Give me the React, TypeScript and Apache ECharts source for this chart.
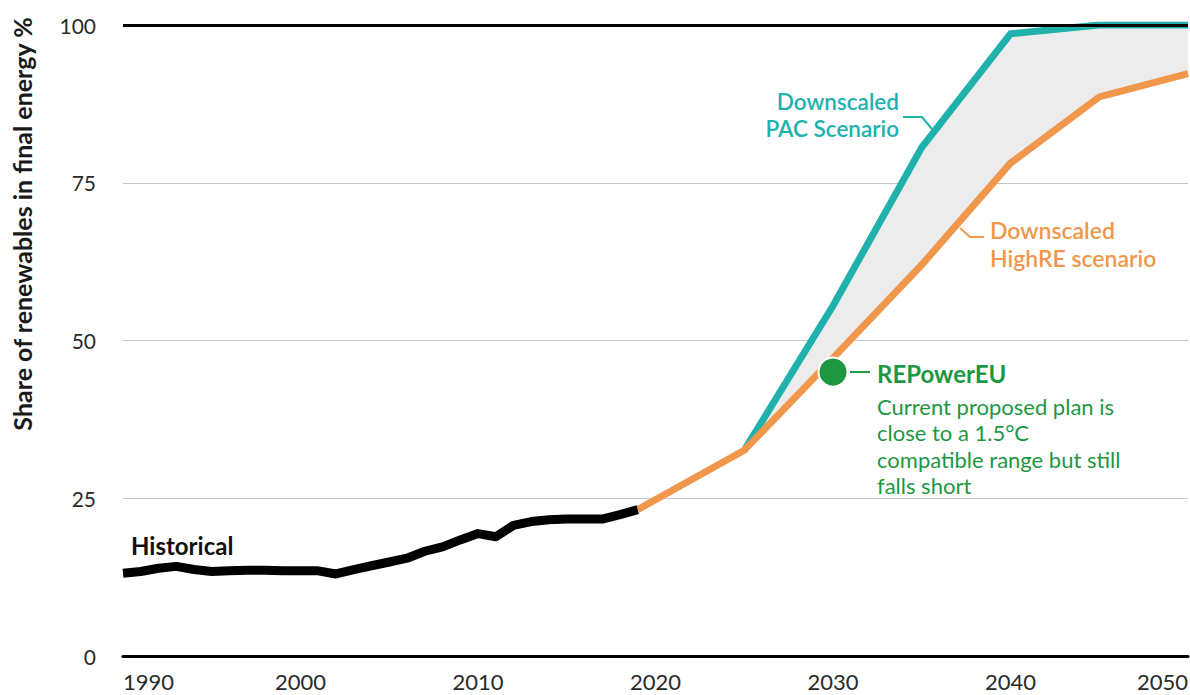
import React, { useEffect, useRef } from "react";
import * as echarts from "echarts";

// ---- data ----
const histYears = [1990, 1991, 1992, 1993, 1994, 1995, 1996, 1997, 1998, 1999, 2000, 2001, 2002, 2003, 2004, 2005, 2006, 2007, 2008, 2009, 2010, 2011, 2012, 2013, 2014, 2015, 2016, 2017, 2018, 2019];
const histValues = [13.1, 13.4, 13.9, 14.2, 13.7, 13.4, 13.5, 13.6, 13.6, 13.5, 13.5, 13.5, 13.0, 13.7, 14.3, 14.9, 15.5, 16.6, 17.3, 18.4, 19.4, 18.9, 20.7, 21.3, 21.6, 21.7, 21.7, 21.7, 22.4, 23.2];

const highReYears = [2019, 2025, 2030, 2035, 2040, 2045, 2050];
const highReValues = [23.2, 32.6, 47.2, 62.0, 78.1, 88.6, 92.3];

const pacYears = [2025, 2030, 2035, 2040, 2045, 2050];
const pacValues = [32.6, 55.5, 80.6, 98.6, 100, 100];

const repowerPoint = [2030, 45];

const yTicks = [0, 25, 50, 75, 100];
const xTicks = [1990, 2000, 2010, 2020, 2030, 2040, 2050];

const yAxisTitle = "Share of renewables in final energy %";
const historicalLabel = "Historical";
const pacLabel = ["Downscaled", "PAC Scenario"];
const highReLabel = ["Downscaled", "HighRE scenario"];
const repowerTitle = "REPowerEU";
const repowerBody = ["Current proposed plan is", "close to a 1.5°C", "compatible range but still", "falls short"];

const TEAL = "#21b1ad";
const ORANGE = "#f0974b";
const GREEN = "#1e9741";
const BAND = "#ececec";
const FONT = "Lato, 'Open Sans', sans-serif";

export default function App() {
  const ref = useRef<HTMLDivElement>(null);

  useEffect(() => {
    if (!ref.current) return;
    const chart = echarts.init(ref.current, null, { renderer: "svg" });

    // band between the two scenarios, from 2025 on
    const bandLower = pacYears.map((y) => [y, highReValues[highReYears.indexOf(y)]]);
    const bandUpper = pacYears.map((y, i) => [y, pacValues[i]]);

    const option: any = {
      animation: false,
      backgroundColor: "#ffffff",
      textStyle: { fontFamily: FONT },
      grid: { left: 123, right: 2, top: 25, bottom: 39, containLabel: false, outerBoundsMode: "none" },
      xAxis: {
        type: "value",
        min: 1990,
        max: 2050,
        interval: 10,
        axisLine: { show: true, lineStyle: { color: "#000", width: 3 } },
        axisTick: { show: false },
        splitLine: { show: false },
        axisLabel: {
          color: "#2a2a2a",
          fontSize: 22,
          fontFamily: FONT,
          margin: 14,
          alignMinLabel: "left",
          alignMaxLabel: "right",
          customValues: xTicks,
          formatter: (v: number) => String(v),
        },
      },
      yAxis: {
        type: "value",
        min: 0,
        max: 100,
        interval: 25,
        axisLine: { show: false },
        axisTick: { show: false },
        splitLine: { show: true, lineStyle: { color: "#c6c6c6", width: 1 } },
        axisLabel: {
          color: "#2a2a2a",
          fontSize: 21,
          fontFamily: FONT,
          margin: 27,
          customValues: yTicks,
        },
      },
      series: [
        {
          name: "band",
          type: "custom",
          silent: true,
          data: [bandUpper[0]],
          encode: { x: 0, y: 1 },
          z: 1,
          renderItem: (params: any, api: any) => {
            if (params.dataIndex !== 0) return null;
            const pts: number[][] = [];
            bandUpper.forEach((p) => pts.push(api.coord(p)));
            bandLower
              .slice()
              .reverse()
              .forEach((p) => pts.push(api.coord(p)));
            return {
              type: "polygon",
              shape: { points: pts },
              style: { fill: BAND, stroke: "none" },
            };
          },
          markLine: {
            silent: true,
            symbol: "none",
            label: { show: false },
            lineStyle: { color: "#000", width: 3, type: "solid" },
            data: [{ yAxis: 100 }],
          },
        },
        {
          name: "Downscaled PAC Scenario",
          type: "line",
          data: pacYears.map((y, i) => [y, pacValues[i]]),
          symbol: "none",
          lineStyle: { color: TEAL, width: 7, join: "miter" },
          z: 3,
        },
        {
          name: "Downscaled HighRE scenario",
          type: "line",
          data: highReYears.map((y, i) => [y, highReValues[i]]),
          symbol: "none",
          lineStyle: { color: ORANGE, width: 7, join: "miter" },
          z: 3,
        },
        {
          name: "Historical",
          type: "line",
          data: histYears.map((y, i) => [y, histValues[i]]),
          symbol: "none",
          lineStyle: { color: "#000", width: 9, join: "round" },
          z: 4,
        },
        {
          name: "REPowerEU",
          type: "scatter",
          data: [repowerPoint],
          symbolSize: 29,
          itemStyle: { color: GREEN, borderColor: "#ffffff", borderWidth: 2, opacity: 1 },
          z: 5,
        },
      ],
    };

    chart.setOption(option);

    const px = (x: number, y: number) => chart.convertToPixel({ xAxisIndex: 0, yAxisIndex: 0 }, [x, y]) as number[];
    const dot = px(repowerPoint[0], repowerPoint[1]);

    // multi-line text block; y = centre of first line
    const block = (
      lines: string[],
      x: number,
      y: number,
      color: string,
      size: number,
      weight: any,
      align: string,
      lh: number
    ) => ({
      type: "text",
      x,
      y: y - lh / 2,
      silent: true,
      style: {
        text: lines.join("\n"),
        fill: color,
        fontSize: size,
        fontWeight: weight,
        fontFamily: FONT,
        textAlign: align,
        textVerticalAlign: "top",
        lineHeight: lh,
      },
    });

    const graphics: any[] = [
      {
        type: "text",
        x: 22,
        y: 224,
        rotation: Math.PI / 2,
        silent: true,
        style: {
          text: yAxisTitle,
          fill: "#1a1a1a",
          fontSize: 25,
          fontWeight: "bold",
          fontFamily: FONT,
          textAlign: "center",
          textVerticalAlign: "middle",
        },
      },
      block([historicalLabel], 131, 545, "#111", 24, "bold", "left", 29),
      block(pacLabel, 899, 101, TEAL, 22.5, 600, "right", 27),
      {
        type: "polyline",
        silent: true,
        shape: { points: [[903, 117], [922, 117], [932, 129]] },
        style: { stroke: TEAL, lineWidth: 2, fill: "none" },
        z: 10,
      },
      block(highReLabel, 990, 230, ORANGE, 23, 600, "left", 28),
      {
        type: "polyline",
        silent: true,
        shape: { points: [[960, 228], [970, 237], [984, 237]] },
        style: { stroke: ORANGE, lineWidth: 2, fill: "none" },
        z: 10,
      },
      {
        type: "line",
        silent: true,
        shape: { x1: dot[0] + 17, y1: dot[1], x2: dot[0] + 37, y2: dot[1] },
        style: { stroke: GREEN, lineWidth: 2 },
        z: 10,
      },
      block([repowerTitle], dot[0] + 44, dot[1] + 1, GREEN, 24, "bold", "left", 28),
      block(repowerBody, dot[0] + 44, dot[1] + 34, GREEN, 22, "normal", "left", 26.5),
    ];

    chart.setOption({ graphic: graphics });

    return () => chart.dispose();
  }, []);

  return (
    <div
      ref={ref}
      style={{ position: "fixed", left: 0, top: 0, width: 1190, height: 695, background: "#fff" }}
    />
  );
}
